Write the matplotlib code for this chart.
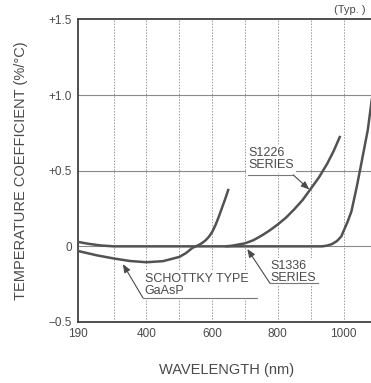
import numpy as np
import matplotlib
matplotlib.use("Agg")
import matplotlib.pyplot as plt

plt.rcParams['font.family'] = ['Liberation Sans', 'DejaVu Sans']

# temperature coefficient curves (wavelength nm, %/degC)
schottky_nm = [190, 250, 300, 350, 400, 450, 500, 520, 540, 550, 560, 570, 580, 590,
               600, 610, 620, 630, 640, 650]
schottky_tc = [-0.03, -0.06, -0.08, -0.097, -0.105, -0.098, -0.07, -0.045, -0.01, 0.0,
               0.01, 0.023, 0.04, 0.063, 0.095, 0.14, 0.195, 0.255, 0.315, 0.38]

s1336_nm = [190, 220, 260, 300, 400, 600, 800, 935, 950, 965, 980, 993, 1000, 1012,
            1024, 1040, 1054, 1074, 1088, 1100]
s1336_tc = [0.03, 0.018, 0.006, 0.0, 0.0, 0.0, 0.0, 0.0, 0.005, 0.015, 0.035, 0.065, 0.1,
            0.16, 0.23, 0.39, 0.545, 0.77, 1.0, 1.15]

s1226_nm = [640, 660, 675, 700, 725, 750, 775, 800, 825, 850, 875, 900, 925, 950, 970, 990]
s1226_tc = [0.0, 0.004, 0.01, 0.02, 0.04, 0.07, 0.105, 0.145, 0.19, 0.245, 0.305, 0.38,
            0.455, 0.545, 0.63, 0.73]

xticks = [190, 400, 600, 800, 1000]
xtick_labels = ['190', '400', '600', '800', '1000']
yticks = [-0.5, 0, 0.5, 1.0, 1.5]
ytick_labels = ['\u22120.5', '0', '+0.5', '+1.0', '+1.5']

ink = '#4a4a4a'
curve = '#525252'

fig = plt.figure(figsize=(3.71, 3.83), dpi=100)
ax = fig.add_axes([0.209, 0.1593, 0.8054, 0.790])
ax.set_xlim(190, 1100)
ax.set_ylim(-0.5, 1.5)

# grid: dotted verticals every 100 nm, thin solid horizontals
for x in range(300, 1100, 100):
    ax.axvline(x, color='#9a9a9a', lw=0.7, ls=(0, (1.5, 1.5)), zorder=1)
for y in [0, 0.5, 1.0]:
    ax.axhline(y, color='#8a8a8a', lw=0.8, zorder=1)

line_kw = dict(color=curve, lw=1.8, zorder=3, solid_capstyle='butt', solid_joinstyle='round')
ax.plot(s1336_nm, s1336_tc, **line_kw)
ax.plot(s1226_nm, s1226_tc, **line_kw)
ax.plot(schottky_nm, schottky_tc, **line_kw)

ax.set_xticks(xticks)
ax.set_xticklabels(xtick_labels)
ax.set_yticks(yticks)
ax.set_yticklabels(ytick_labels)
ax.tick_params(length=0, labelsize=8.5, labelcolor=ink, pad=4)

for side in ['left', 'bottom', 'top']:
    ax.spines[side].set_color('#404040')
    ax.spines[side].set_linewidth(1.3)
ax.spines['right'].set_visible(False)

ax.set_xlabel('WAVELENGTH (nm)', fontsize=10.5, color=ink, labelpad=17)
ax.set_ylabel('TEMPERATURE COEFFICIENT (%/\u00b0C)', fontsize=10.5, color=ink, labelpad=15)

ax.text(972, 1.527, '(Typ. )', fontsize=8, color=ink, va='bottom', ha='left')

label_kw = dict(fontsize=9, color=ink, va='top', ha='left', linespacing=1.0, zorder=4,
                bbox=dict(facecolor='white', edgecolor='none', pad=1.5))
arrow_kw = dict(arrowstyle='-|>,head_length=0.5,head_width=0.2', color=ink, lw=0.8,
                shrinkA=0, shrinkB=0)

# S1226 label, underline and leader
ax.text(710, 0.655, 'S1226\nSERIES', **label_kw)
ax.plot([710, 847], [0.472, 0.472], color='#777777', lw=0.8, zorder=4)
ax.annotate('', xy=(896, 0.375), xytext=(847, 0.472), arrowprops=arrow_kw, zorder=5)

# S1336 label
ax.text(776, -0.088, 'S1336\nSERIES', **label_kw)
ax.plot([776, 922], [-0.244, -0.244], color='#777777', lw=0.8, zorder=4)
ax.annotate('', xy=(707, -0.017), xytext=(776, -0.244), arrowprops=arrow_kw, zorder=5)

# Schottky label
ax.text(395, -0.178, 'SCHOTTKY TYPE\nGaAsP', **label_kw)
ax.plot([389, 737], [-0.34, -0.34], color='#777777', lw=0.8, zorder=4)
ax.annotate('', xy=(328, -0.117), xytext=(389, -0.34), arrowprops=arrow_kw, zorder=5)

fig.savefig('out.png', dpi=100)
